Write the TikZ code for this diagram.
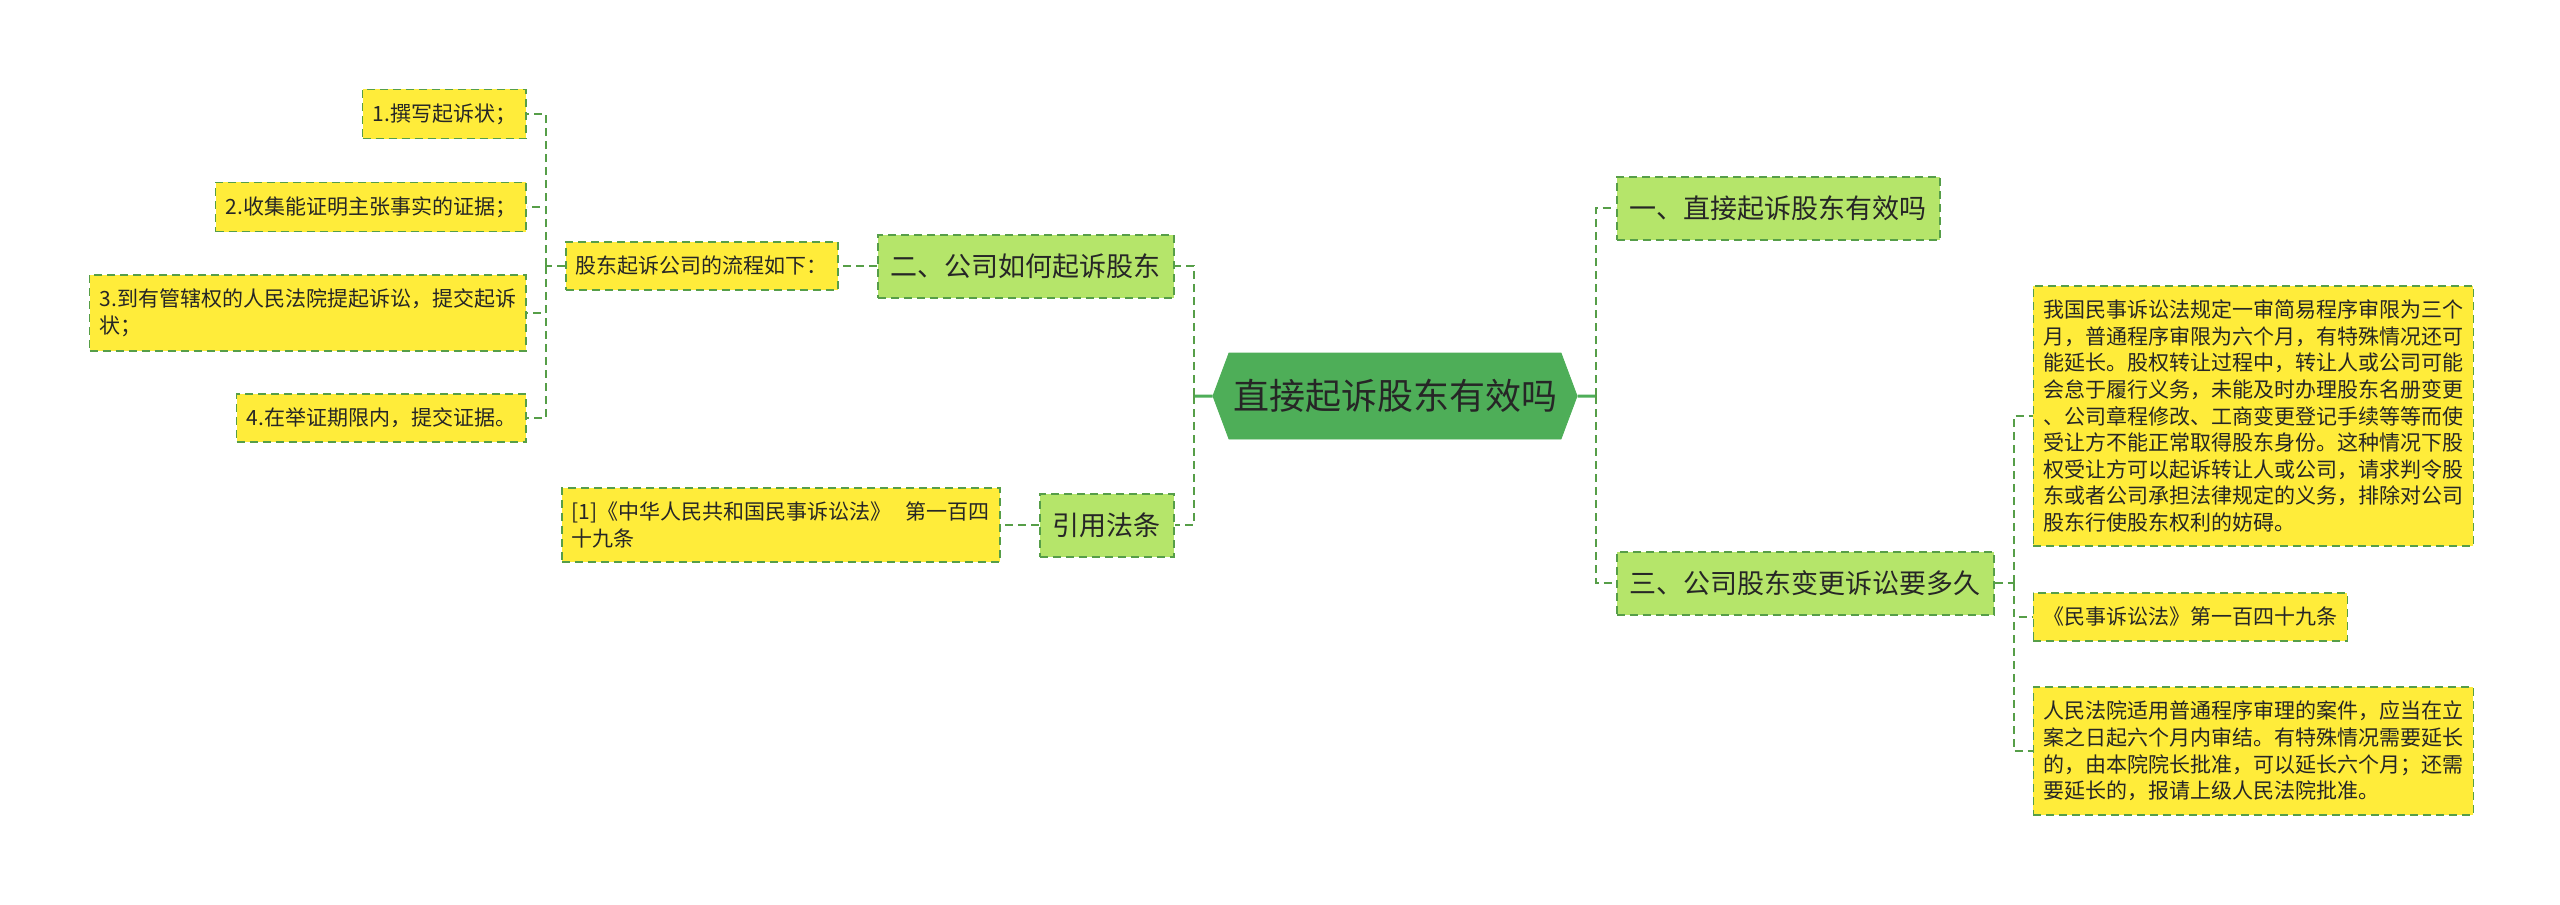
\documentclass[tikz,border=0pt]{standalone}
\usepackage{fontspec}
\setmainfont{Noto Sans CJK SC}
\usepackage{xcolor}
\usepackage{tikz}
\definecolor{rootgreen}{RGB}{78,174,88}
\definecolor{linegreen}{RGB}{86,158,72}
\definecolor{lightgreen}{RGB}{181,229,106}
\definecolor{leafyellow}{RGB}{255,236,58}
\definecolor{darktext}{RGB}{38,38,38}
\usetikzlibrary{shapes.symbols,positioning,calc}
\tikzset{
    root/.style={signal, signal to=west and east, signal pointer angle=139, draw=rootgreen, fill=rootgreen, minimum width=180.5pt, minimum height=43pt, inner xsep=2pt, text=darktext, font=\fontsize{18}{22}\selectfont},
    branch/.style={rectangle, draw=linegreen, fill=lightgreen, line width=1pt, dash pattern=on 4pt off 2.5pt, minimum height=31.5pt, inner xsep=6.5pt, inner ysep=3pt, text=darktext, font=\fontsize{13.5}{16}\selectfont},
    leaf/.style={rectangle, draw=linegreen, fill=leafyellow, line width=0.8pt, dash pattern=on 4pt off 2.5pt, minimum height=24pt, inner xsep=5pt, inner ysep=7pt, align=left, text=darktext, font=\fontsize{10.5}{13.3}\selectfont},
    link/.style={draw=linegreen, line width=1pt, dash pattern=on 4pt off 2.5pt},
    stem/.style={draw=rootgreen, line width=1.5pt},
}
\begin{document}
\begin{tikzpicture}[x=0.5pt, y=-0.5pt, node distance=19pt]
    \useasboundingbox (0,0) rectangle (2560,905);

    % Root
    \node[root] (root) at (1395,396) {直接起诉股东有效吗};

    % Right branches
    \node[branch, right=of root, yshift=94pt] (valid) {一、直接起诉股东有效吗};
    \node[branch, right=of root, yshift=-93.5pt] (period) {三、公司股东变更诉讼要多久};

    % Right texts
    \node[leaf, right=of period, yshift=83.5pt] (rule) {我国民事诉讼法规定一审简易程序审限为三个\\月，普通程序审限为六个月，有特殊情况还可\\能延长。股权转让过程中，转让人或公司可能\\会怠于履行义务，未能及时办理股东名册变更\\、公司章程修改、工商变更登记手续等等而使\\受让方不能正常取得股东身份。这种情况下股\\权受让方可以起诉转让人或公司，请求判令股\\东或者公司承担法律规定的义务，排除对公司\\股东行使股东权利的妨碍。};
    \node[leaf, right=of period, yshift=-17pt] (article) {《民事诉讼法》第一百四十九条};
    \node[leaf, right=of period, yshift=-84pt] (court) {人民法院适用普通程序审理的案件，应当在立\\案之日起六个月内审结。有特殊情况需要延长\\的，由本院院长批准，可以延长六个月；还需\\要延长的，报请上级人民法院批准。};

    % Left branches
    \node[branch, left=of root, yshift=65pt] (howto) {二、公司如何起诉股东};
    \node[branch, left=of root, yshift=-64.5pt] (cite) {引用法条};

    % Left texts
    \node[leaf, left=of howto] (flow) {股东起诉公司的流程如下：};
    \node[leaf, left=of cite] (law) {[1]《中华人民共和国民事诉讼法》\hspace{7pt}第一百四\\十九条};

    % Steps
    \node[leaf, left=of flow, yshift=76pt] (step1) {1.撰写起诉状；};
    \node[leaf, left=of flow, yshift=29.5pt] (step2) {2.收集能证明主张事实的证据；};
    \node[leaf, left=of flow, yshift=-23.5pt] (step3) {3.到有管辖权的人民法院提起诉讼，提交起诉\\状；};
    \node[leaf, left=of flow, yshift=-76pt] (step4) {4.在举证期限内，提交证据。};

    % Trunks
    \coordinate (rtrunk) at ($(root.east)+(18,0)$);
    \coordinate (ltrunk) at ($(root.west)+(-19,0)$);
    \coordinate (ptrunk) at ($(period.east)+(19,0)$);
    \coordinate (ftrunk) at ($(flow.west)+(-19,0)$);

    % Connectors
    \draw[stem] (root) -- (rtrunk);
    \draw[stem] (root) -- (ltrunk);
    \draw[link] (rtrunk) |- (valid);
    \draw[link] (rtrunk) |- (period);
    \draw[link] (ltrunk) |- (howto);
    \draw[link] (ltrunk) |- (cite);
    \draw[link] (period) -- (ptrunk);
    \foreach \t in {rule,article,court}
        \draw[link] (ptrunk) |- (\t);
    \draw[link] (howto) -- (flow);
    \draw[link] (cite) -- (law);
    \draw[link] (flow) -- (ftrunk);
    \foreach \s in {step1,step2,step3,step4}
        \draw[link] (ftrunk) |- (\s);
\end{tikzpicture}
\end{document}
